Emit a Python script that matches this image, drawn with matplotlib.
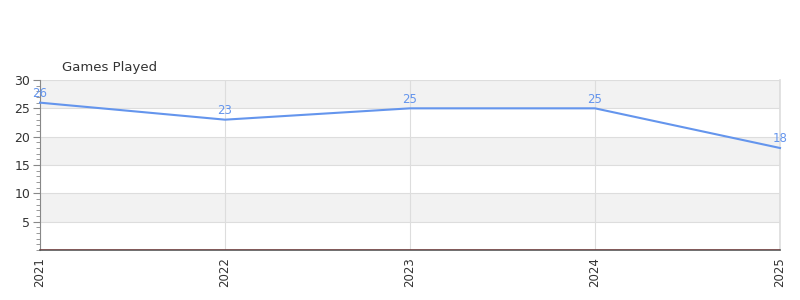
import matplotlib
matplotlib.use("Agg")
import matplotlib.pyplot as plt
from matplotlib.ticker import MultipleLocator

years = ["2021", "2022", "2023", "2024", "2025"]
games = [26, 23, 25, 25, 18]
title = "Games Played"

fig = plt.figure(figsize=(8, 3), dpi=100)
ax = fig.add_axes([0.05, 1 - 250/300, 0.925, 170/300])

x = list(range(len(years)))
ax.set_xlim(0, len(years) - 1)
ax.set_ylim(0, 30)

# alternating bands
for lo in range(0, 30, 5):
    if (lo // 5) % 2 == 1:
        ax.axhspan(lo, lo + 5, color="#f2f2f2", zorder=0, lw=0)

ax.yaxis.set_major_locator(MultipleLocator(5))
ax.yaxis.set_minor_locator(MultipleLocator(1))
ax.grid(True, which="major", axis="both", color="#dddddd", lw=0.8, zorder=1)
ax.axvline(len(years) - 1, color="#dddddd", lw=1.2, zorder=1, clip_on=False)

ax.plot(x, games, color="#6495ED", lw=1.5, zorder=3, clip_on=False)
for xi, v in zip(x, games):
    ax.annotate(str(v), (xi, v), xytext=(0, 2), textcoords="offset points",
                ha="center", va="bottom", color="#6495ED", fontsize=8.5, zorder=4)

ax.axhline(0, color="#cc0000", lw=1, zorder=4)

ax.set_xticks(x)
ax.set_xticklabels(years, rotation=90, fontsize=8.5, color="#333333")
ax.set_yticks([5, 10, 15, 20, 25, 30])
ax.set_yticklabels(["5", "10", "15", "20", "25", "30"], fontsize=9, color="#333333")

for s in ["top", "right"]:
    ax.spines[s].set_visible(False)
ax.spines["left"].set_color("#888888")
ax.spines["bottom"].set_color("#555555")
ax.spines["bottom"].set_linewidth(1.2)
ax.tick_params(axis="y", which="major", length=5, color="#888888", pad=2)
ax.tick_params(axis="y", which="minor", length=3, color="#888888")
ax.tick_params(axis="x", length=0, pad=5)

fig.text(62/800, 1 - 67/300, title, fontsize=9.5, color="#333333", va="center", ha="left")

fig.savefig("out.png", dpi=100)
